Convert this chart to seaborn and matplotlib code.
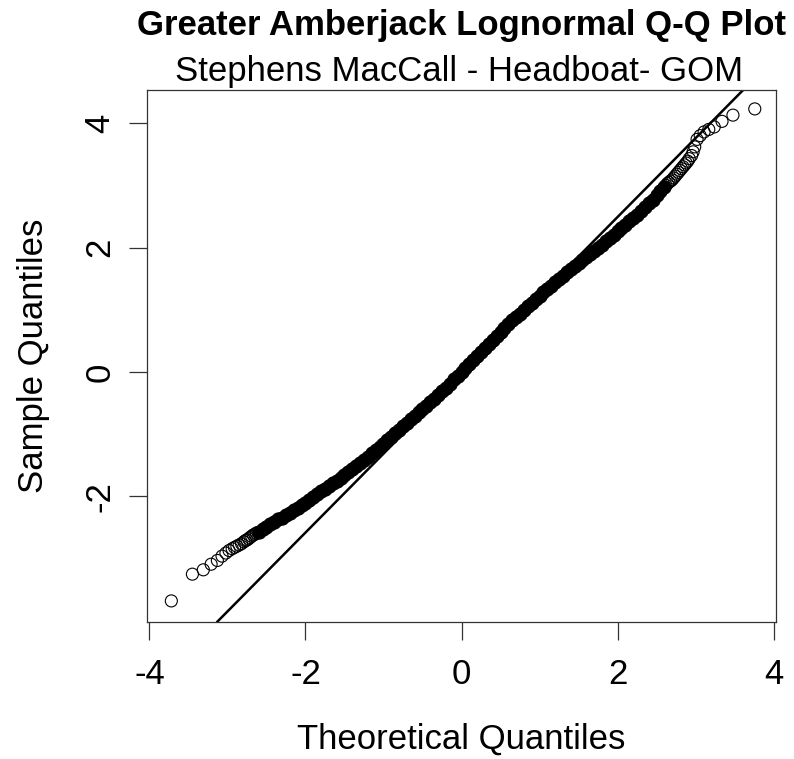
import numpy as np
import pandas as pd
import matplotlib
matplotlib.use('Agg')
import matplotlib.pyplot as plt
import seaborn as sns

# Q-Q points
# sparse lower tail (open circles)
low_x = [-3.72, -3.45, -3.31, -3.21, -3.13, -3.07, -3.02, -2.98, -2.94, -2.91, -2.88, -2.85,
         -2.82, -2.79, -2.77, -2.75, -2.73, -2.71, -2.69, -2.67, -2.65, -2.63, -2.61]
low_y = [-3.68, -3.25, -3.18, -3.09, -3.03, -2.96, -2.91, -2.87, -2.84, -2.82, -2.80, -2.78,
         -2.76, -2.73, -2.71, -2.70, -2.68, -2.66, -2.64, -2.62, -2.61, -2.59, -2.58]

# dense middle band (thousands of overplotted circles in the original)
mid_x = [-2.60, -2.55, -2.50, -2.45, -2.40, -2.35, -2.30, -2.25, -2.20, -2.15, -2.10, -2.05,
         -2.00, -1.95, -1.90, -1.85, -1.80, -1.75, -1.70, -1.65, -1.60, -1.55, -1.50, -1.45,
         -1.40, -1.35, -1.30, -1.25, -1.20, -1.15, -1.10, -1.05, -1.00, -0.95, -0.90, -0.85,
         -0.80, -0.75, -0.70, -0.65, -0.60, -0.55, -0.50, -0.45, -0.40, -0.35, -0.30, -0.25,
         -0.20, -0.15, -0.10, -0.05, 0.00, 0.05, 0.10, 0.15, 0.20, 0.25, 0.30, 0.35,
         0.40, 0.45, 0.50, 0.55, 0.60, 0.65, 0.70, 0.75, 0.80, 0.85, 0.90, 0.95,
         1.00, 1.05, 1.10, 1.15, 1.20, 1.25, 1.30, 1.35, 1.40, 1.45, 1.50, 1.55,
         1.60, 1.65, 1.70, 1.75, 1.80, 1.85, 1.90, 1.95, 2.00, 2.05, 2.10, 2.15,
         2.20, 2.25, 2.30, 2.35, 2.40, 2.45, 2.50, 2.55, 2.60]
mid_y = [-2.57, -2.53, -2.49, -2.45, -2.41, -2.37, -2.34, -2.30, -2.26, -2.22, -2.18, -2.14,
         -2.10, -2.05, -2.01, -1.96, -1.92, -1.88, -1.84, -1.79, -1.75, -1.70, -1.65, -1.61,
         -1.56, -1.51, -1.46, -1.41, -1.36, -1.31, -1.26, -1.20, -1.15, -1.09, -1.04, -0.98,
         -0.93, -0.87, -0.82, -0.76, -0.71, -0.65, -0.60, -0.54, -0.49, -0.43, -0.37, -0.31,
         -0.25, -0.19, -0.12, -0.06, 0.00, 0.06, 0.13, 0.19, 0.26, 0.32, 0.39, 0.45,
         0.52, 0.58, 0.64, 0.71, 0.77, 0.83, 0.89, 0.94, 1.00, 1.06, 1.11, 1.17,
         1.22, 1.28, 1.33, 1.39, 1.44, 1.49, 1.55, 1.60, 1.65, 1.70, 1.75, 1.80,
         1.85, 1.90, 1.95, 2.00, 2.05, 2.10, 2.15, 2.21, 2.26, 2.31, 2.36, 2.42,
         2.47, 2.53, 2.59, 2.65, 2.71, 2.77, 2.84, 2.91, 2.98]

# sparse upper tail (open circles)
high_x = [2.62, 2.64, 2.66, 2.68, 2.70, 2.72, 2.74, 2.76, 2.78, 2.80, 2.82, 2.84, 2.86, 2.88,
          2.90, 2.92, 2.95, 2.97, 2.99, 3.02, 3.06, 3.11, 3.17, 3.24, 3.34, 3.48, 3.76]
high_y = [3.00, 3.03, 3.05, 3.07, 3.09, 3.12, 3.15, 3.18, 3.21, 3.24, 3.27, 3.30, 3.33, 3.36,
          3.39, 3.43, 3.48, 3.54, 3.62, 3.74, 3.80, 3.86, 3.90, 3.94, 4.03, 4.13, 4.23]

# qqline through the quartiles
line_intercept = -0.045
line_slope = 1.268

x_ticks = [-4, -2, 0, 2, 4]
y_ticks = [-2, 0, 2, 4]

sns.set_style('white')
plt.rcParams['font.family'] = ['Liberation Sans', 'DejaVu Sans']
plt.rcParams['text.color'] = 'black'
plt.rcParams['axes.labelcolor'] = 'black'
plt.rcParams['xtick.color'] = 'black'
plt.rcParams['ytick.color'] = 'black'

fig = plt.figure(figsize=(7.94, 7.59), dpi=100)
ax = fig.add_axes([147 / 794, 137 / 759, 629 / 794, 532 / 759])

tails = pd.DataFrame({'x': low_x + high_x, 'y': low_y + high_y})
band = pd.DataFrame({'x': mid_x, 'y': mid_y})

sns.scatterplot(data=band, x='x', y='y', ax=ax, s=90, color='black',
                edgecolor='black', linewidth=0.8, zorder=3)
sns.scatterplot(data=tails, x='x', y='y', ax=ax, s=75, facecolors='none',
                edgecolor='black', linewidth=0.8, zorder=3)
ax.axline((0, line_intercept), slope=line_slope, color='black', lw=1.8, zorder=2)

ax.set_xlim(-4.032, 4.032)
ax.set_ylim(-4.019, 4.534)
ax.set_xticks(x_ticks)
ax.set_yticks(y_ticks)
ax.set_xticklabels([str(t) for t in x_ticks])
ax.set_yticklabels([str(t) for t in y_ticks], rotation=90, va='center')
ax.tick_params(axis='both', direction='out', length=13, width=0.9, color='#333333',
               labelsize=25, bottom=True, left=True)
ax.tick_params(axis='x', pad=13)
ax.tick_params(axis='y', pad=9)
for sp in ax.spines.values():
    sp.set_color('#333333')
    sp.set_linewidth(0.9)

ax.set_xlabel('Theoretical Quantiles', fontsize=25, labelpad=23)
ax.set_ylabel('Sample Quantiles', fontsize=25, labelpad=24)

fig.text(0.581, 1 - 26 / 759, 'Greater Amberjack Lognormal Q-Q Plot', ha='center', va='center',
         fontsize=25, fontweight='bold')
fig.text(0.578, 1 - 71 / 759, 'Stephens MacCall - Headboat- GOM', ha='center', va='center',
         fontsize=25)

fig.savefig('out.png', dpi=100)
